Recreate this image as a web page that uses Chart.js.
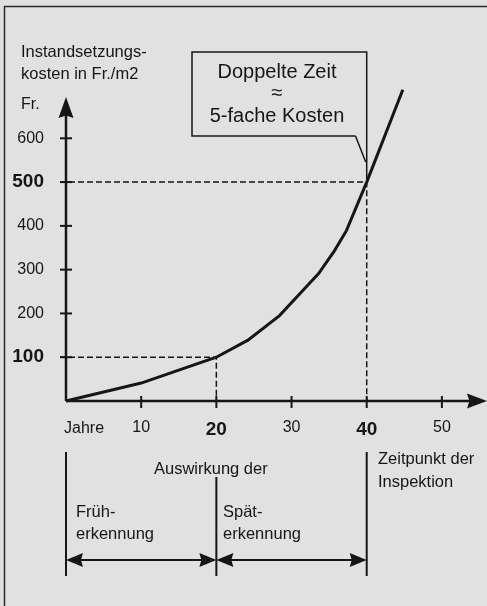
<!DOCTYPE html>
<html lang="de">
<head>
<meta charset="utf-8">
<title>Instandsetzungskosten</title>
<script src="https://cdn.jsdelivr.net/npm/chart.js@4.4.1/dist/chart.umd.min.js"></script>
<style>
  html, body { margin: 0; padding: 0; background: #e1e1e1; }
  canvas { display: block; }
</style>
</head>
<body>
<canvas id="costChart" width="487" height="606"></canvas>
<script>
// Kostenkurve: Jahre bis zur Inspektion -> Instandsetzungskosten (Fr./m2)
const years = [0, 10, 20, 24.2, 28.4, 31.1, 33.6, 35.7, 37.3, 40, 44.8];
const costs = [0, 41, 100, 139, 195, 245, 291, 343, 389, 500, 711];

// Achsenbeschriftung
const xTicks = [10, 20, 30, 40, 50];
const yTicks = [100, 200, 300, 400, 500, 600];
const boldXTicks = [20, 40];
const boldYTicks = [100, 500];

// Hilfslinien (Früh- / Späterkennung)
const guideYears = [20, 40];
const guideCosts = [100, 500];

const FONT = '"Liberation Sans", Arial, Helvetica, sans-serif';
const INK = '#161616';
const BG = '#e1e1e1';

function tickFont(c, boldList) {
    const v = c.tick ? c.tick.value : null;
    if (boldList.includes(v)) return { family: FONT, size: 19, weight: 'bold' };
    return { family: FONT, size: 16 };
}

function arrowHead(ctx, tipX, tipY, dirX, dirY, len, half) {
    // arrow head pointing in (dirX, dirY), small notch at the back
    const bx = tipX - dirX * len, by = tipY - dirY * len;
    const nx = -dirY, ny = dirX;
    ctx.beginPath();
    ctx.moveTo(tipX, tipY);
    ctx.lineTo(bx + nx * half, by + ny * half);
    ctx.lineTo(tipX - dirX * len * 0.88, tipY - dirY * len * 0.88);
    ctx.lineTo(bx - nx * half, by - ny * half);
    ctx.closePath();
    ctx.fill();
}

function text(ctx, str, x, y, opts) {
    opts = opts || {};
    ctx.font = (opts.weight || 'normal') + ' ' + (opts.size || 16.5) + 'px ' + FONT;
    ctx.textAlign = opts.align || 'left';
    ctx.textBaseline = 'alphabetic';
    ctx.fillStyle = INK;
    ctx.fillText(str, x, y);
}

const sketchPlugin = {
    id: 'sketch',
    beforeDraw(chart) {
        const ctx = chart.ctx;
        ctx.save();
        ctx.fillStyle = BG;
        ctx.fillRect(0, 0, chart.width, chart.height);
        // frame (top + left edge)
        ctx.strokeStyle = '#2a2a2a';
        ctx.lineWidth = 1.5;
        ctx.beginPath();
        ctx.moveTo(4.5, chart.height);
        ctx.lineTo(4.5, 6.5);
        ctx.lineTo(chart.width, 6.5);
        ctx.stroke();
        ctx.restore();
    },
    beforeDatasetsDraw(chart) {
        const ctx = chart.ctx;
        const xs = chart.scales.x, ys = chart.scales.y;
        const x0 = xs.getPixelForValue(0), y0 = ys.getPixelForValue(0);
        ctx.save();

        // dashed guide lines
        ctx.strokeStyle = INK;
        ctx.lineWidth = 1.5;
        ctx.setLineDash([6, 3]);
        guideYears.forEach((yr, i) => {
            const px = xs.getPixelForValue(yr), py = ys.getPixelForValue(guideCosts[i]);
            ctx.beginPath();
            ctx.moveTo(x0 - 6, py);
            ctx.lineTo(px, py);
            ctx.lineTo(px, y0);
            ctx.stroke();
        });
        ctx.setLineDash([]);

        // axes with arrows
        ctx.lineWidth = 2.5;
        ctx.fillStyle = INK;
        ctx.beginPath();
        ctx.moveTo(x0, y0);
        ctx.lineTo(x0, 112);
        ctx.moveTo(x0, y0);
        ctx.lineTo(chart.width - 12, y0);
        ctx.stroke();
        arrowHead(ctx, x0, 97, 0, -1, 21, 7.5);
        arrowHead(ctx, chart.width, y0, 1, 0, 20, 7.5);

        // tick marks crossing the axes
        ctx.lineWidth = 2;
        yTicks.forEach(v => {
            const py = ys.getPixelForValue(v);
            ctx.beginPath();
            ctx.moveTo(x0 - 6, py);
            ctx.lineTo(x0 + 6, py);
            ctx.stroke();
        });
        xTicks.forEach(v => {
            const px = xs.getPixelForValue(v);
            ctx.beginPath();
            ctx.moveTo(px, y0 - 5);
            ctx.lineTo(px, y0 + 7);
            ctx.stroke();
        });
        ctx.restore();
    },
    afterDraw(chart) {
        const ctx = chart.ctx;
        const xs = chart.scales.x;
        const x0 = xs.getPixelForValue(0);
        const xMid = xs.getPixelForValue(guideYears[0]);
        const xEnd = xs.getPixelForValue(guideYears[1]);
        ctx.save();

        // axis titles
        text(ctx, 'Instandsetzungs-', 21, 57);
        text(ctx, 'kosten in Fr./m2', 21, 79);
        text(ctx, 'Fr.', 21, 109, { size: 16 });
        text(ctx, 'Jahre', 64, 433, { size: 16 });

        // callout
        ctx.strokeStyle = INK;
        ctx.lineWidth = 1.5;
        ctx.beginPath();
        ctx.moveTo(355.5, 136);
        ctx.lineTo(192, 136);
        ctx.lineTo(192, 52);
        ctx.lineTo(xEnd, 52);
        ctx.lineTo(xEnd, 179);
        ctx.moveTo(355.5, 136);
        ctx.lineTo(xEnd - 1, 162);
        ctx.stroke();
        text(ctx, 'Doppelte Zeit', 277, 78, { size: 20, align: 'center' });
        text(ctx, '\u2248', 277, 99, { size: 20, align: 'center' });
        text(ctx, '5-fache Kosten', 277, 122, { size: 20, align: 'center' });

        // lower explanation
        ctx.lineWidth = 2;
        ctx.beginPath();
        ctx.moveTo(x0, 452); ctx.lineTo(x0, 576);
        ctx.moveTo(xMid, 477); ctx.lineTo(xMid, 576);
        ctx.moveTo(xEnd, 452); ctx.lineTo(xEnd, 576);
        ctx.moveTo(x0 + 10, 560); ctx.lineTo(xMid - 10, 560);
        ctx.moveTo(xMid + 10, 560); ctx.lineTo(xEnd - 10, 560);
        ctx.stroke();
        ctx.fillStyle = INK;
        arrowHead(ctx, x0, 560, -1, 0, 17, 7);
        arrowHead(ctx, xMid, 560, 1, 0, 17, 7);
        arrowHead(ctx, xMid, 560, -1, 0, 17, 7);
        arrowHead(ctx, xEnd, 560, 1, 0, 17, 7);

        text(ctx, 'Auswirkung der', 154, 474);
        text(ctx, 'Zeitpunkt der', 378, 464);
        text(ctx, 'Inspektion', 378, 487);
        text(ctx, 'Früh-', 76, 517);
        text(ctx, 'erkennung', 76, 539);
        text(ctx, 'Spät-', 223, 517);
        text(ctx, 'erkennung', 223, 539);
        ctx.restore();
    }
};

new Chart(document.getElementById('costChart'), {
    type: 'line',
    data: {
        datasets: [{
            data: years.map((yr, i) => ({ x: yr, y: costs[i] })),
            borderColor: INK,
            borderWidth: 3,
            pointRadius: 0,
            tension: 0,
            fill: false,
            clip: false
        }]
    },
    options: {
        responsive: false,
        animation: false,
        devicePixelRatio: 1,
        layout: { padding: { top: 84, right: 0, bottom: 0, left: 0 } },
        plugins: { legend: { display: false }, tooltip: { enabled: false } },
        scales: {
            x: {
                type: 'linear',
                min: 0,
                max: 56,
                afterFit: s => { s.height = 205; },
                afterBuildTicks: s => { s.ticks = xTicks.map(v => ({ value: v })); },
                grid: { display: false, drawTicks: false },
                border: { display: false },
                ticks: {
                    padding: 17,
                    color: INK,
                    autoSkip: false,
                    maxRotation: 0,
                    font: c => tickFont(c, boldXTicks)
                }
            },
            y: {
                min: 0,
                max: 724,
                afterFit: s => { s.width = 66; },
                afterBuildTicks: s => { s.ticks = yTicks.map(v => ({ value: v })); },
                grid: { display: false, drawTicks: false },
                border: { display: false },
                ticks: {
                    padding: 22,
                    color: INK,
                    autoSkip: false,
                    font: c => tickFont(c, boldYTicks)
                }
            }
        }
    },
    plugins: [sketchPlugin]
});
</script>
</body>
</html>
